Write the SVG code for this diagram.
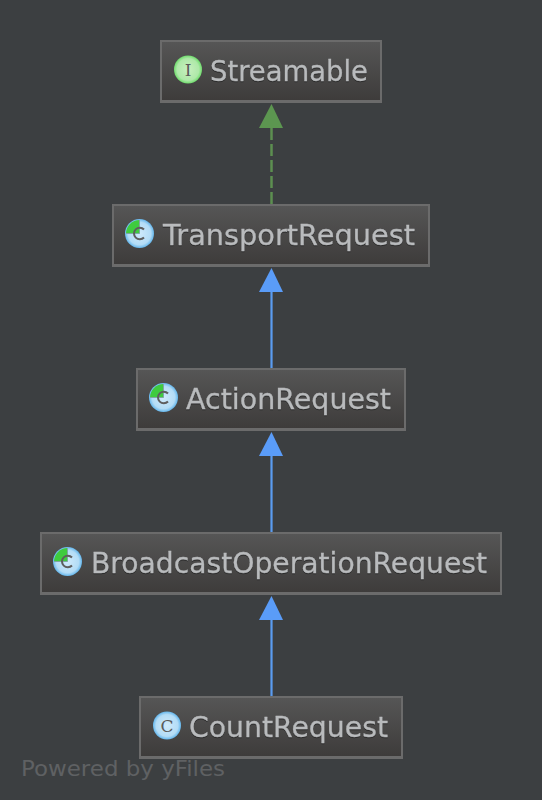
<svg xmlns="http://www.w3.org/2000/svg" width="542" height="800" viewBox="0 0 542 800">
<style>
.box{fill:url(#nodeFill);stroke:#6b6b6b;stroke-width:2}
.foot{stroke:#6b6b6b;stroke-width:3;fill:none}
.label{font-family:"DejaVu Sans","Liberation Sans",sans-serif;font-size:29px;fill:#b9bbbd;stroke:#b9bbbd;stroke-width:.35px;filter:drop-shadow(0 1px 0 #2b2b2b)}
.letter{font-family:"DejaVu Serif","Liberation Serif",serif;font-size:17px;fill:#5a5a5a;text-anchor:middle}
.ext{stroke:#5a9cf0;stroke-width:2.200;fill:none}
.impl{stroke:#5c8f50;stroke-width:2.500;fill:none;stroke-dasharray:12 4}
.wm{font-family:"DejaVu Sans","Liberation Sans",sans-serif;font-size:22px;fill:#5f6163}
</style>
<defs>
<linearGradient id="nodeFill" x1="0" y1="0" x2="0" y2="1"><stop offset="0" stop-color="#565656"/><stop offset="1" stop-color="#3d3b3a"/></linearGradient>
<radialGradient id="cFill" cx=".5" cy=".5" r=".5"><stop offset="0" stop-color="#cfeafb"/><stop offset=".78" stop-color="#b3dcf6"/><stop offset="1" stop-color="#64b6ec"/></radialGradient>
<radialGradient id="iFill" cx=".5" cy=".5" r=".5"><stop offset="0" stop-color="#c8f0c0"/><stop offset=".78" stop-color="#aee8a8"/><stop offset="1" stop-color="#6fdc6c"/></radialGradient>
<symbol id="abstractIcon" viewBox="0 0 29 29" overflow="visible">
<circle cx="14.500" cy="14.500" r="14.500" fill="url(#cFill)"/>
<path d="M14.500 14.500V1A13.500 13.500 0 0 0 1 14.500Z" fill="#3fcb3f"/>
<path d="M14.500 1V14.500H1" fill="none" stroke="#7fa8a0" stroke-width="1"/>
<path d="M19 10.500A5.800 5.800 0 1 0 19 18.500" fill="none" stroke="#5e5e5e" stroke-width="2"/>
</symbol>
</defs>
<rect width="542" height="800" fill="#3c3f41"/>
<text class="wm" x="21" y="776" textLength="204" lengthAdjust="spacingAndGlyphs">Powered by yFiles</text>
<g id="connectors">
<path class="impl" d="M271.500 204V128"/><path d="M271.500 104L283 128H259Z" fill="#5c9650"/>
<path class="ext" d="M271.500 368V292"/><path d="M271.500 268L283 292H259Z" fill="#5a9cf8"/>
<path class="ext" d="M271.500 532V456"/><path d="M271.500 432L283 456H259Z" fill="#5a9cf8"/>
<path class="ext" d="M271.500 696V620"/><path d="M271.500 596L283 620H259Z" fill="#5a9cf8"/>
</g>
<g id="node-streamable">
<rect class="box" x="161" y="41" width="220" height="61"/>
<path class="foot" d="M161 101.500H381"/>
<circle cx="188" cy="69.500" r="14" fill="url(#iFill)"/>
<text class="letter" x="188" y="75.500">I</text>
<text class="label" x="210" y="81" textLength="158" lengthAdjust="spacingAndGlyphs">Streamable</text>
</g>
<g id="node-transportrequest">
<rect class="box" x="113" y="205" width="316" height="61"/>
<path class="foot" d="M113 265.500H429"/>
<use href="#abstractIcon" x="125" y="219" width="29" height="29"/>
<text class="label" x="163" y="245" textLength="252" lengthAdjust="spacingAndGlyphs">TransportRequest</text>
</g>
<g id="node-actionrequest">
<rect class="box" x="137" y="369" width="268" height="61"/>
<path class="foot" d="M137 429.500H405"/>
<use href="#abstractIcon" x="149" y="383" width="29" height="29"/>
<text class="label" x="186" y="409" textLength="205" lengthAdjust="spacingAndGlyphs">ActionRequest</text>
</g>
<g id="node-broadcastoperationrequest">
<rect class="box" x="41" y="533" width="460" height="61"/>
<path class="foot" d="M41 593.500H501"/>
<use href="#abstractIcon" x="53" y="547" width="29" height="29"/>
<text class="label" x="91" y="573" textLength="396" lengthAdjust="spacingAndGlyphs">BroadcastOperationRequest</text>
</g>
<g id="node-countrequest">
<rect class="box" x="140" y="697" width="262" height="61"/>
<path class="foot" d="M140 757.500H402"/>
<circle cx="167" cy="725.500" r="14" fill="url(#cFill)"/>
<text class="letter" x="167" y="731.500">C</text>
<text class="label" x="189" y="737" textLength="199" lengthAdjust="spacingAndGlyphs">CountRequest</text>
</g>
</svg>
